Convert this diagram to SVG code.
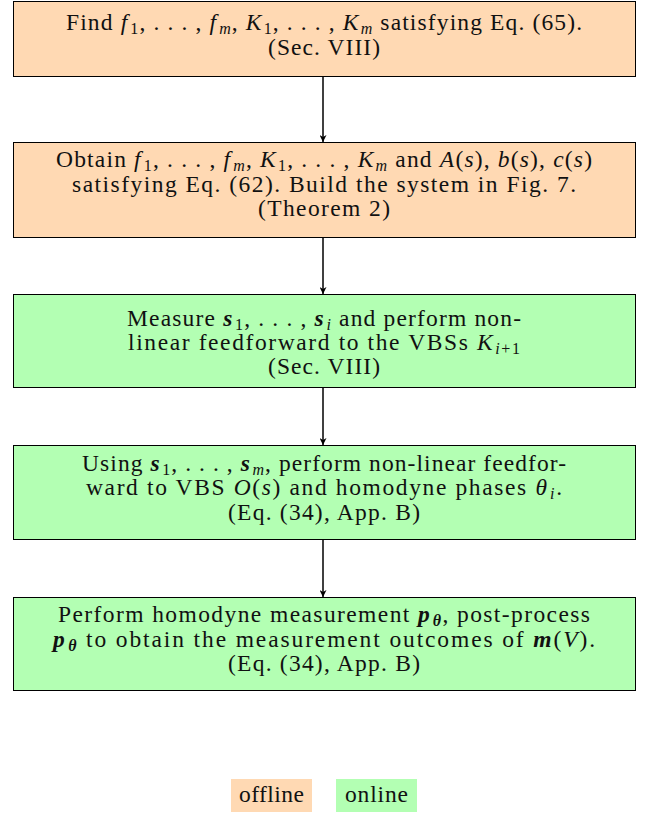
<svg xmlns="http://www.w3.org/2000/svg" width="657" height="813" viewBox="0 0 657 813">
<defs>
<marker id="ah" viewBox="0 0 10 10" refX="10" refY="5" markerWidth="7" markerHeight="7" orient="auto" markerUnits="userSpaceOnUse">
<path d="M0,0 L10,5 L0,10 L3,5 Z" fill="#000"/>
</marker>
<style>
.off{fill:#FFD9B3;stroke:#000;stroke-width:1}
.on{fill:#B3FFB3;stroke:#000;stroke-width:1}
text{font-family:"Liberation Serif","DejaVu Serif",serif;font-size:23.5px;fill:#111;text-anchor:middle}
.i{font-style:italic}
.b{font-style:italic;font-weight:bold}
.s{font-size:16px}
.c line{stroke:#000;stroke-width:1.5}
</style>
</defs>
<rect width="657" height="813" fill="#fff"/>
<g id="n1">
<rect class="off" x="13.5" y="1.5" width="622" height="75"/>
<text x="324" y="30" textLength="516" lengthAdjust="spacing">Find <tspan class="i">f</tspan><tspan class="s" dx="2" dy="4">1</tspan><tspan dy="-4">, . . . , </tspan><tspan class="i">f</tspan><tspan class="s i" dx="2" dy="4">m</tspan><tspan dy="-4">, </tspan><tspan class="i">K</tspan><tspan class="s" dx="1" dy="4">1</tspan><tspan dy="-4">, . . . , </tspan><tspan class="i">K</tspan><tspan class="s i" dx="1" dy="4">m</tspan><tspan dy="-4"> satisfying Eq. (65).</tspan></text>
<text x="324" y="55" textLength="112" lengthAdjust="spacing">(Sec. VIII)</text>
</g>
<g id="n2">
<rect class="off" x="13.5" y="142.5" width="622" height="95"/>
<text x="324" y="167" textLength="536" lengthAdjust="spacing">Obtain <tspan class="i">f</tspan><tspan class="s" dx="2" dy="4">1</tspan><tspan dy="-4">, . . . , </tspan><tspan class="i">f</tspan><tspan class="s i" dx="2" dy="4">m</tspan><tspan dy="-4">, </tspan><tspan class="i">K</tspan><tspan class="s" dx="1" dy="4">1</tspan><tspan dy="-4">, . . . , </tspan><tspan class="i">K</tspan><tspan class="s i" dx="1" dy="4">m</tspan><tspan dy="-4"> and </tspan><tspan class="i">A</tspan>(<tspan class="i">s</tspan>), <tspan class="i">b</tspan>(<tspan class="i">s</tspan>), <tspan class="i">c</tspan>(<tspan class="i">s</tspan>)</text>
<text x="324" y="192" textLength="504" lengthAdjust="spacing">satisfying Eq. (62).  Build the system in Fig. 7.</text>
<text x="324" y="216" textLength="132" lengthAdjust="spacing">(Theorem 2)</text>
</g>
<g id="n3">
<rect class="on" x="13.5" y="294.5" width="622" height="93"/>
<text x="324" y="326" textLength="394" lengthAdjust="spacing">Measure <tspan class="b">s</tspan><tspan class="s" dx="1.5" dy="4">1</tspan><tspan dy="-4">, . . . , </tspan><tspan class="b">s</tspan><tspan class="s i" dx="1.5" dy="4">i</tspan><tspan dy="-4"> and perform non-</tspan></text>
<text x="324" y="350" textLength="392" lengthAdjust="spacing">linear feedforward to the VBSs <tspan class="i">K</tspan><tspan class="s" dx="1" dy="4"><tspan class="i">i</tspan>+1</tspan></text>
<text x="324" y="374" textLength="112" lengthAdjust="spacing">(Sec. VIII)</text>
</g>
<g id="n4">
<rect class="on" x="13.5" y="445.5" width="622" height="94"/>
<text x="324" y="471" textLength="484" lengthAdjust="spacing">Using <tspan class="b">s</tspan><tspan class="s" dx="1.5" dy="4">1</tspan><tspan dy="-4">, . . . , </tspan><tspan class="b">s</tspan><tspan class="s i" dx="1.5" dy="4">m</tspan><tspan dy="-4">, perform non-linear feedfor-</tspan></text>
<text x="324" y="495" textLength="476" lengthAdjust="spacing">ward to VBS <tspan class="i">O</tspan>(<tspan class="i">s</tspan>) and homodyne phases <tspan class="i">θ</tspan><tspan class="s i" dx="1.5" dy="4">i</tspan><tspan dy="-4">.</tspan></text>
<text x="324" y="520" textLength="192" lengthAdjust="spacing">(Eq. (34), App. B)</text>
</g>
<g id="n5">
<rect class="on" x="13.5" y="597.5" width="622" height="93"/>
<text x="324" y="622" textLength="532" lengthAdjust="spacing">Perform homodyne measurement <tspan class="b">p</tspan><tspan class="s b" dx="1.5" dy="4">θ</tspan><tspan dy="-4">, post-process</tspan></text>
<text x="324" y="647" textLength="542" lengthAdjust="spacing"><tspan class="b">p</tspan><tspan class="s b" dx="1.5" dy="4">θ</tspan><tspan dy="-4"> to obtain the measurement outcomes of </tspan><tspan class="b">m</tspan>(<tspan class="i">V</tspan>).</text>
<text x="324" y="671" textLength="192" lengthAdjust="spacing">(Eq. (34), App. B)</text>
</g>
<g class="c" id="connectors">
<line x1="323" y1="77" x2="323" y2="142" marker-end="url(#ah)"/>
<line x1="323" y1="238" x2="323" y2="294" marker-end="url(#ah)"/>
<line x1="323" y1="388" x2="323" y2="445" marker-end="url(#ah)"/>
<line x1="323" y1="540" x2="323" y2="597" marker-end="url(#ah)"/>
</g>
<g id="legend-offline">
<rect x="231" y="779" width="81" height="33" fill="#FFD9B3"/>
<text x="271.5" y="802" textLength="65" lengthAdjust="spacing">offline</text>
</g>
<g id="legend-online">
<rect x="336" y="779" width="81" height="33" fill="#B3FFB3"/>
<text x="376.5" y="802" textLength="63" lengthAdjust="spacing">online</text>
</g>
</svg>
